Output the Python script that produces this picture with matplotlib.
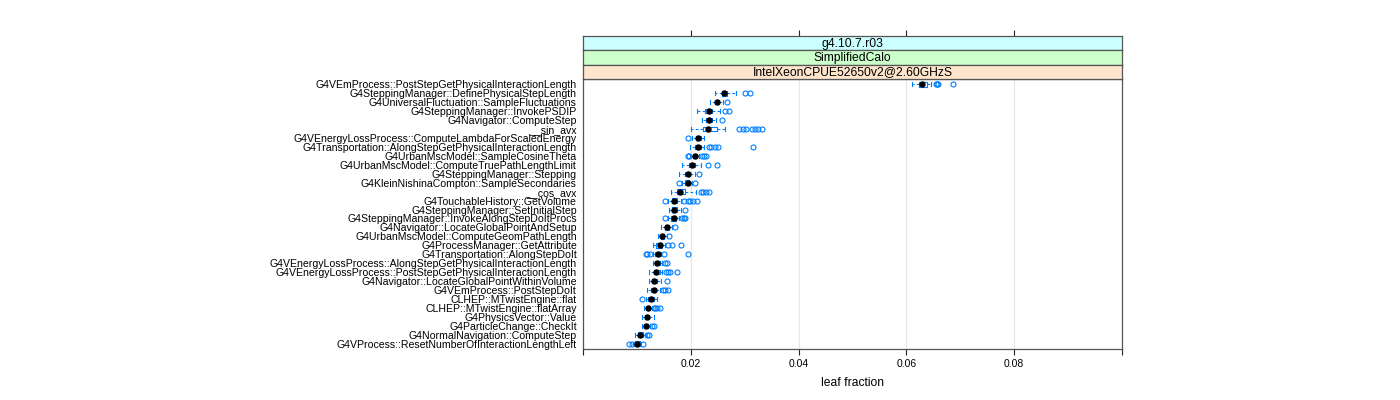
import matplotlib
matplotlib.use("Agg")
import matplotlib.pyplot as plt

plt.rcParams["font.family"] = ["Liberation Sans", "DejaVu Sans"]

# strip levels (outer -> inner)
strips = ["g4.10.7.r03", "SimplifiedCalo", "IntelXeonCPUE52650v2@2.60GHzS"]
strip_cols = ["#ccffff", "#ccffcc", "#ffe5cc"]

# functions, top to bottom
names = [
    "G4VEmProcess::PostStepGetPhysicalInteractionLength",
    "G4SteppingManager::DefinePhysicalStepLength",
    "G4UniversalFluctuation::SampleFluctuations",
    "G4SteppingManager::InvokePSDIP",
    "G4Navigator::ComputeStep",
    "__sin_avx",
    "G4VEnergyLossProcess::ComputeLambdaForScaledEnergy",
    "G4Transportation::AlongStepGetPhysicalInteractionLength",
    "G4UrbanMscModel::SampleCosineTheta",
    "G4UrbanMscModel::ComputeTruePathLengthLimit",
    "G4SteppingManager::Stepping",
    "G4KleinNishinaCompton::SampleSecondaries",
    "__cos_avx",
    "G4TouchableHistory::GetVolume",
    "G4SteppingManager::SetInitialStep",
    "G4SteppingManager::InvokeAlongStepDoItProcs",
    "G4Navigator::LocateGlobalPointAndSetup",
    "G4UrbanMscModel::ComputeGeomPathLength",
    "G4ProcessManager::GetAttribute",
    "G4Transportation::AlongStepDoIt",
    "G4VEnergyLossProcess::AlongStepGetPhysicalInteractionLength",
    "G4VEnergyLossProcess::PostStepGetPhysicalInteractionLength",
    "G4Navigator::LocateGlobalPointWithinVolume",
    "G4VEmProcess::PostStepDoIt",
    "CLHEP::MTwistEngine::flat",
    "CLHEP::MTwistEngine::flatArray",
    "G4PhysicsVector::Value",
    "G4ParticleChange::CheckIt",
    "G4NormalNavigation::ComputeStep",
    "G4VProcess::ResetNumberOfInteractionLengthLeft",
]

whislo = [0.0611, 0.0244, 0.0236, 0.0212, 0.0221, 0.0201, 0.0203, 0.0199, 0.0199, 0.0184,
          0.0179, 0.0184, 0.0163, 0.0158, 0.0160, 0.0158, 0.0145, 0.0139, 0.0129, 0.0129,
          0.0130, 0.0123, 0.0122, 0.0119, 0.0116, 0.0114, 0.0110, 0.0109, 0.0097, 0.0093]
q1 = [0.0624, 0.0257, 0.0244, 0.0227, 0.0229, 0.0223, 0.0209, 0.0208, 0.0205, 0.0196,
      0.0189, 0.0190, 0.0174, 0.0165, 0.0165, 0.0163, 0.0152, 0.0144, 0.0136, 0.0134,
      0.0134, 0.0131, 0.0128, 0.0126, 0.0121, 0.0118, 0.0115, 0.0113, 0.0102, 0.0097]
med = [0.0629, 0.0262, 0.0249, 0.0233, 0.0234, 0.0232, 0.0213, 0.0213, 0.0208, 0.0202,
       0.0194, 0.0194, 0.0180, 0.0169, 0.0169, 0.0168, 0.0156, 0.0147, 0.0142, 0.0139,
       0.0138, 0.0136, 0.0132, 0.0131, 0.0127, 0.0121, 0.0119, 0.0117, 0.0106, 0.0101]
q3 = [0.0639, 0.0268, 0.0253, 0.0240, 0.0240, 0.0249, 0.0218, 0.0218, 0.0212, 0.0208,
      0.0199, 0.0197, 0.0190, 0.0175, 0.0175, 0.0173, 0.0160, 0.0151, 0.0147, 0.0143,
      0.0143, 0.0142, 0.0137, 0.0136, 0.0131, 0.0125, 0.0123, 0.0121, 0.0111, 0.0105]
whishi = [0.0646, 0.0283, 0.0259, 0.0254, 0.0247, 0.0264, 0.0225, 0.0225, 0.0216, 0.0218,
          0.0207, 0.0203, 0.0210, 0.0181, 0.0181, 0.0179, 0.0166, 0.0155, 0.0153, 0.0145,
          0.0147, 0.0147, 0.0144, 0.0143, 0.0138, 0.0128, 0.0131, 0.0125, 0.0116, 0.0107]
fliers = [
    [0.0655, 0.0657, 0.0659, 0.0687],
    [0.0301, 0.0310],
    [0.0268],
    [0.0263, 0.0271],
    [0.0258],
    [0.0290, 0.0296, 0.0303, 0.0314, 0.0320, 0.0325, 0.0333],
    [0.0195],
    [0.0233, 0.0238, 0.0245, 0.0251, 0.0316],
    [0.0195, 0.0197, 0.0221, 0.0225, 0.0229],
    [0.0231, 0.0249],
    [0.0215],
    [0.0179, 0.0208],
    [0.0218, 0.0223, 0.0229, 0.0233],
    [0.0153, 0.0188, 0.0194, 0.0199, 0.0205, 0.0212],
    [0.0189],
    [0.0152, 0.0184, 0.0187, 0.0190],
    [0.0171],
    [0.0160],
    [0.0158, 0.0166, 0.0181],
    [0.0116, 0.0119, 0.0124, 0.0150, 0.0195],
    [0.0153, 0.0156],
    [0.0154, 0.0157, 0.0161, 0.0175],
    [0.0155],
    [0.0148, 0.0153, 0.0157],
    [0.0110],
    [0.0131, 0.0134, 0.0138, 0.0142],
    [],
    [0.0128, 0.0131],
    [0.0119, 0.0123],
    [0.0086, 0.0091, 0.0111],
]

xticks = [0.0, 0.02, 0.04, 0.06, 0.08, 0.10]
xticklabels = ["", "0.02", "0.04", "0.06", "0.08", ""]

BLUE = "#0080ff"
FRAME = "#555555"
W, H = 1400, 400

fig = plt.figure(figsize=(14, 4), dpi=100)
L, R, T, B = 583, 1122, 79, 349
ax = fig.add_axes([L / W, 1 - B / H, (R - L) / W, (B - T) / H])

n = len(names)
pos = [n - i for i in range(n)]
stats = [dict(med=med[i], q1=q1[i], q3=q3[i], whislo=whislo[i], whishi=whishi[i],
              fliers=fliers[i]) for i in range(n)]

ax.bxp(stats, positions=pos, widths=0.5, capwidths=0.45, orientation="horizontal",
       showfliers=True, patch_artist=False,
       boxprops=dict(color=BLUE, lw=0.8),
       whiskerprops=dict(color=BLUE, lw=0.8, ls=(0, (2.5, 2))),
       capprops=dict(color=BLUE, lw=0.8),
       medianprops=dict(visible=False),
       flierprops=dict(marker="o", mfc="none", mec=BLUE, ms=3.6, mew=0.8))
ax.plot(med, pos, "o", color="black", ms=3.6, zorder=5)

for g in xticks[1:-1]:
    ax.axvline(g, color="#e6e6e6", lw=0.8, zorder=0)

ax.set_xlim(0, 0.1)
ax.set_ylim(0.4, n + 0.6)
ax.set_yticks(pos)
ax.set_yticklabels(names, fontsize=7.6)
ax.tick_params(axis="y", length=0, pad=4.5)
ax.set_xticks(xticks)
ax.set_xticklabels(xticklabels, fontsize=7.5)
ax.tick_params(axis="x", length=4, width=0.8, color="#222222", pad=3)
ax.set_xlabel("leaf fraction", fontsize=8.7, labelpad=6)
for s in ax.spines.values():
    s.set_color(FRAME)
    s.set_linewidth(0.9)

# strips
sh = (T - 36) / 3.0
for k, (lab, col) in enumerate(zip(strips, strip_cols)):
    top = 36 + k * sh
    sa = fig.add_axes([L / W, 1 - (top + sh) / H, (R - L) / W, sh / H])
    sa.set_facecolor(col)
    sa.set_xlim(0, 0.1)
    sa.set_yticks([])
    sa.text(0.5, 0.45, lab, ha="center", va="center", fontsize=8.7,
            transform=sa.transAxes)
    for s in sa.spines.values():
        s.set_color(FRAME)
        s.set_linewidth(0.9)
    if k == 0:
        sa.xaxis.tick_top()
        sa.set_xticks(xticks[1:-1])
        sa.set_xticklabels([])
        sa.tick_params(axis="x", length=4, width=0.8, color="#222222")
    else:
        sa.set_xticks([])

fig.savefig("out.png", dpi=100)
